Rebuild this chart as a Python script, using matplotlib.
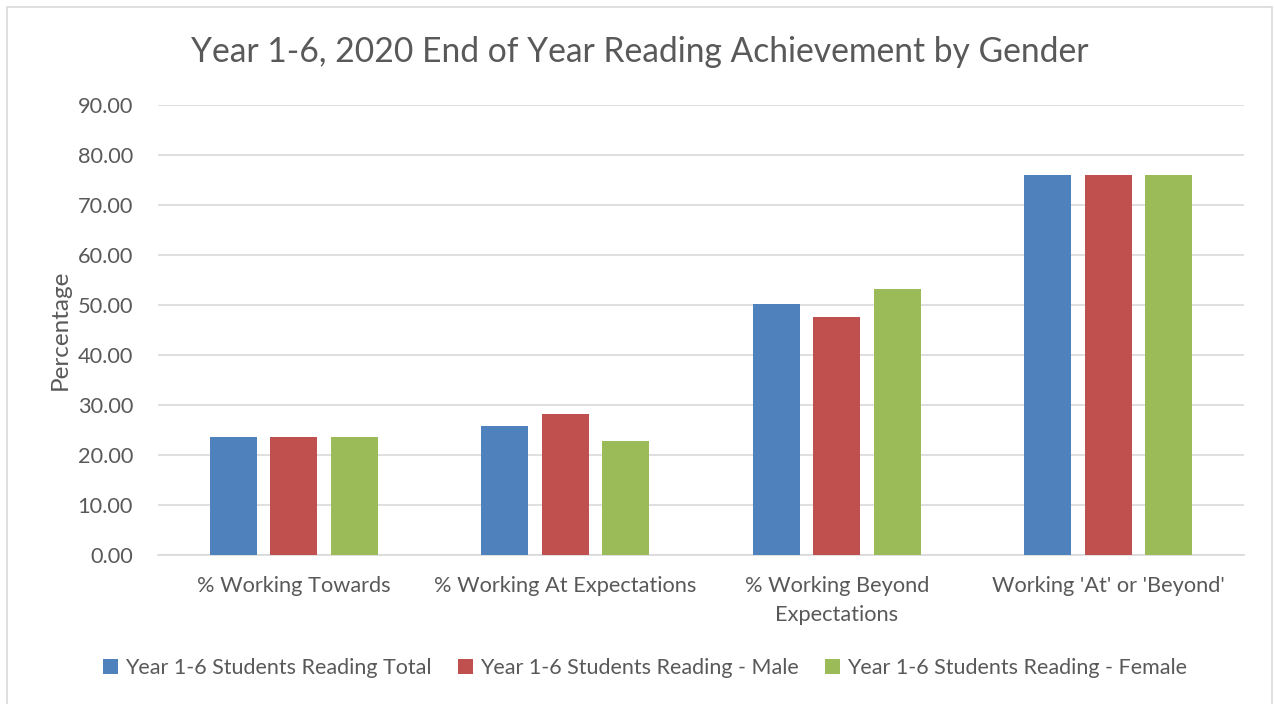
import matplotlib
matplotlib.use("Agg")
import matplotlib.pyplot as plt
from matplotlib.patches import Rectangle
import numpy as np

# ---------------- DATA ----------------
categories = ["% Working Towards", "% Working At Expectations",
              "% Working Beyond\nExpectations", "Working 'At' or 'Beyond'"]
series_names = ["Year 1-6 Students Reading Total",
                "Year 1-6 Students Reading - Male",
                "Year 1-6 Students Reading - Female"]
total = [23.6, 25.9, 50.2, 76.1]
male = [23.6, 28.3, 47.7, 76.1]
female = [23.7, 22.8, 53.2, 76.1]
colors = ["#4F81BD", "#C0504D", "#9BBB59"]

text_col = "#595959"
plt.rcParams["font.family"] = ["Lato", "DejaVu Sans"]

fig = plt.figure(figsize=(12.74, 7.04), dpi=100)
W, H = 1274, 704
ax = fig.add_axes([158 / W, 1 - 555 / H, 1086 / W, 450 / H])

# outer chart border
fig.patches.append(Rectangle((7 / W, -0.01), (1272 - 7) / W, 1 - 7 / H + 0.01,
                             transform=fig.transFigure, fill=False,
                             edgecolor="#D9D9D9", linewidth=1.2))

x = np.arange(len(categories))
width = 0.173
step = 0.222
for i, (vals, name) in enumerate(zip([total, male, female], series_names)):
    ax.bar(x + (i - 1) * step, vals, width, color=colors[i], label=name, zorder=3)

ax.set_xlim(-0.5, len(categories) - 0.5)
ax.set_ylim(0, 90)
ax.set_yticks(np.arange(0, 91, 10))
ax.set_yticklabels([f"{v:.2f}" for v in np.arange(0, 91, 10)])
ax.set_xticks(x)
ax.set_xticklabels(categories, linespacing=1.55)
ax.grid(axis="y", color="#D9D9D9", linewidth=1.2, zorder=0)
for s in ["top", "right", "left"]:
    ax.spines[s].set_visible(False)
ax.spines["bottom"].set_color("#D9D9D9")
ax.spines["bottom"].set_linewidth(1.2)
ax.tick_params(axis="both", length=0, labelsize=15.7, colors=text_col)
ax.tick_params(axis="x", pad=15)
ax.tick_params(axis="y", pad=18)

ax.set_ylabel("Percentage", fontsize=17.5, color=text_col, labelpad=5)

fig.text(640 / W, 1 - 52 / H, "Year 1-6, 2020 End of Year Reading Achievement by Gender",
         ha="center", va="center", fontsize=24.2, color=text_col)

fig.legend(loc="center", bbox_to_anchor=(645 / W, 1 - 668 / H), ncol=3, frameon=False,
           fontsize=15.5, labelcolor=text_col, handlelength=0.7, handleheight=0.7,
           handletextpad=0.35, columnspacing=1.2)

fig.savefig("out.png", dpi=100)
